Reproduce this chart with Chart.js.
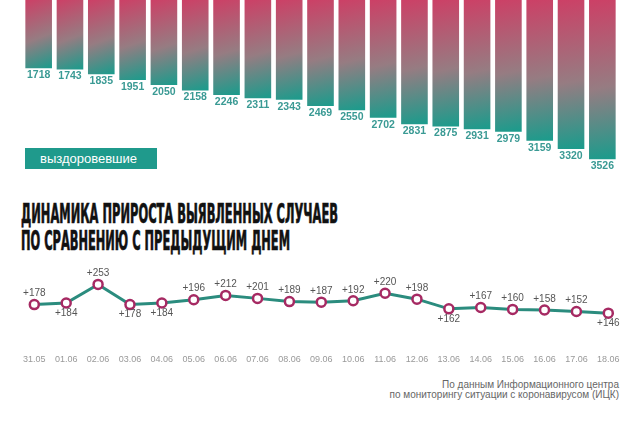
<!DOCTYPE html>
<html>
<head>
<meta charset="utf-8">
<script src="https://cdn.jsdelivr.net/npm/chart.js@4.4.0/dist/chart.umd.min.js"></script>
<style>
  body { margin: 0; background: #fff; width: 640px; height: 425px; overflow: hidden; position: relative;
         font-family: "Liberation Sans", Arial, sans-serif; }
  #barBox { position: absolute; left: 0; top: 0; width: 640px; height: 180px; }
  #lineBox { position: absolute; left: 0; top: 260px; width: 640px; height: 110px; }
  .tag { position: absolute; left: 25px; top: 148px; width: 132px; height: 21px; background: #1f9a8c;
         color: #fff; font-size: 13px; line-height: 21px; text-indent: 15px; }
  .title { position: absolute; left: 21px; top: 201px; font-family: "DejaVu Sans Condensed", "DejaVu Sans";
           font-weight: bold; font-size: 26.5px; line-height: 26.7px; color: #111; -webkit-text-stroke: 0.7px #111; }
  .title div { white-space: nowrap; transform-origin: 0 0; display: inline-block; }
  .src { position: absolute; right: 21px; top: 380px; text-align: right; font-size: 10px;
         line-height: 10px; color: #666; }
</style>
</head>
<body>
<div id="barBox"><canvas id="bar-chart"></canvas></div>
<div class="tag">выздоровевшие</div>
<div class="title">
  <div id="t1" data-w="317">ДИНАМИКА ПРИРОСТА ВЫЯВЛЕННЫХ СЛУЧАЕВ</div><br>
  <div id="t2" data-w="269">ПО СРАВНЕНИЮ С ПРЕДЫДУЩИМ ДНЕМ</div>
</div>
<div id="lineBox"><canvas id="line-chart"></canvas></div>
<div class="src">По данным Информационного центра<br>по мониторингу ситуации с коронавирусом (ИЦК)</div>

<script>
// Data
var dates = ['31.05', '01.06', '02.06', '03.06', '04.06', '05.06', '06.06', '07.06', '08.06', '09.06',
             '10.06', '11.06', '12.06', '13.06', '14.06', '15.06', '16.06', '17.06', '18.06'];
var recovered = [1718, 1743, 1835, 1951, 2050, 2158, 2246, 2311, 2343, 2469,
                 2550, 2702, 2831, 2875, 2931, 2979, 3159, 3320, 3526];
var growth = [178, 184, 253, 178, 184, 196, 212, 201, 189, 187,
              192, 220, 198, 162, 167, 160, 158, 152, 146];
// which growth labels sit under the point
var belowIdx = [1, 3, 4, 13, 18];

// squeeze title lines to the width of the original condensed font
['t1', 't2'].forEach(function (id) {
    var el = document.getElementById(id);
    el.style.transform = 'scaleX(' + (el.dataset.w / el.getBoundingClientRect().width) + ')';
});

// Bars hanging from the top, value under each one
var barLabels = {
    id: 'barLabels',
    afterDatasetsDraw: function (chart) {
        var ctx = chart.ctx;
        var meta = chart.getDatasetMeta(0);
        ctx.save();
        ctx.font = 'bold 10.5px "Liberation Sans", Arial, sans-serif';
        ctx.fillStyle = '#3a9a94';
        ctx.textAlign = 'center';
        ctx.textBaseline = 'middle';
        meta.data.forEach(function (bar, i) {
            ctx.fillText(recovered[i], bar.x, bar.y + 7);
        });
        ctx.restore();
    }
};

function barGradient(context) {
    var chart = context.chart;
    var xs = chart.scales.x, ys = chart.scales.y;
    if (!xs || !ys || context.dataIndex === undefined) return '#9a7a80';
    var x = xs.getPixelForValue(context.dataIndex);
    var yb = ys.getPixelForValue(recovered[context.dataIndex]);
    if (!isFinite(x) || !isFinite(yb)) return '#9a7a80';
    var g = chart.ctx.createLinearGradient(x - 13, 0, x + 13, yb);
    g.addColorStop(0, '#cc4066');
    g.addColorStop(0.55, '#967c82');
    g.addColorStop(1, '#199c8c');
    return g;
}

var barChart = new Chart(document.getElementById('bar-chart'), {
    type: 'bar',
    data: {
        labels: dates,
        datasets: [{
            data: recovered,
            backgroundColor: barGradient,
            barPercentage: 0.85,
            categoryPercentage: 1
        }]
    },
    options: {
        responsive: true,
        maintainAspectRatio: false,
        animation: false,
        layout: { padding: { left: 23, right: 22, top: 0, bottom: 0 } },
        plugins: { legend: { display: false }, tooltip: { enabled: false } },
        scales: {
            x: { display: false },
            y: { display: false, reverse: true, min: 360, max: 3938 }
        }
    },
    plugins: [barLabels]
});
barChart.update();

// Growth line, "+N" next to each point
var growthLabels = {
    id: 'growthLabels',
    afterDatasetsDraw: function (chart) {
        var ctx = chart.ctx;
        var meta = chart.getDatasetMeta(0);
        ctx.save();
        ctx.font = '10px "Liberation Sans", Arial, sans-serif';
        ctx.fillStyle = '#555';
        ctx.textAlign = 'center';
        ctx.textBaseline = 'middle';
        meta.data.forEach(function (pt, i) {
            var dy = belowIdx.indexOf(i) >= 0 ? 10 : -11;
            ctx.fillText('+' + growth[i], pt.x, pt.y + dy);
        });
        ctx.restore();
    }
};

var lineChart = new Chart(document.getElementById('line-chart'), {
    type: 'line',
    data: {
        labels: dates,
        datasets: [{
            data: growth,
            borderColor: '#2b8c7e',
            borderWidth: 3,
            pointRadius: 4.5,
            pointBorderWidth: 2.5,
            pointBorderColor: '#a62a63',
            pointBackgroundColor: '#fff',
            tension: 0
        }]
    },
    options: {
        responsive: true,
        maintainAspectRatio: false,
        animation: false,
        layout: { padding: { left: 34.3, right: 31.7, top: 10, bottom: 2 } },
        plugins: { legend: { display: false }, tooltip: { enabled: false } },
        scales: {
            x: {
                offset: false,
                grid: { display: false, drawTicks: false },
                border: { display: false },
                ticks: { color: '#999', font: { size: 9 }, padding: 3, maxRotation: 0, autoSkip: false }
            },
            y: { display: false, min: 4.6, max: 306.5 }
        }
    },
    plugins: [growthLabels]
});
</script>
</body>
</html>
